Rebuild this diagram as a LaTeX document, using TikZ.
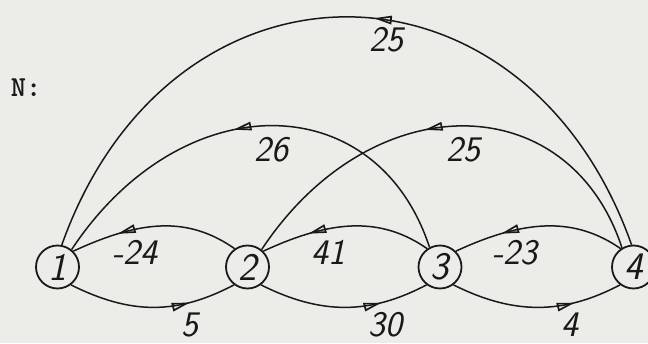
\documentclass[tikz,border=0pt]{standalone}
\usetikzlibrary{arrows.meta,decorations.markings}
\definecolor{paper}{RGB}{236,236,233}
\definecolor{ink}{RGB}{25,25,25}
\tikzset{
  vtx/.style={circle, draw=ink, line width=1.8pt, fill=paper, minimum size=43pt, inner sep=0pt,
              font=\fontsize{39}{39}\selectfont\sffamily\slshape, text=ink},
  lbl/.style={font=\fontsize{36}{36}\selectfont\sffamily\slshape, text=ink, inner sep=0pt},
  ttl/.style={font=\fontsize{29}{29}\selectfont\ttfamily\bfseries, text=ink, inner sep=0pt},
  edge/.style={draw=ink, line width=1.5pt},
  tipat/.style={postaction={decorate}, decoration={markings,
      mark=at position #1 with {\arrow{Triangle[open, length=18pt, width=8.5pt, line width=1.7pt]}}}},
}
\begin{document}
\begin{tikzpicture}[x=1pt, y=-1pt]
  \fill[paper] (0,0) rectangle (648,343);
  \useasboundingbox (0,0) rectangle (648,343);

  \node[ttl] (title) at (26,88) {N:};

  % vertices
  \node[vtx] (n1) at (57.5,267) {1};
  \node[vtx] (n2) at (247.5,267) {2};
  \node[vtx] (n3) at (440,267) {3};
  \node[vtx] (n4) at (633.5,267) {4};

  % long arcs
  \draw[edge, tipat=0.465] (n4.95) .. controls +(-108,-304) and +(108,-304) .. (n1.79);
  \draw[edge, tipat=0.55] (n3.118) .. controls +(-53,-161.5) and +(110,-166) .. (n1.51);
  \draw[edge, tipat=0.55] (n4.121) .. controls +(-53,-161.5) and +(110,-166) .. (n2.51);

  % upper arcs (right to left)
  \draw[edge, tipat=0.72] (n2.125) .. controls +(-46,-32) and +(69,-32) .. (n1.45);
  \draw[edge, tipat=0.72] (n3.125) .. controls +(-46,-32) and +(69,-32) .. (n2.45);
  \draw[edge, tipat=0.72] (n4.125) .. controls +(-46,-32) and +(69,-32) .. (n3.45);

  % lower arcs (left to right)
  \draw[edge, tipat=0.72] (n1.-53) .. controls +(60,30) and +(-57,30) .. (n2.-127);
  \draw[edge, tipat=0.72] (n2.-53) .. controls +(60,30) and +(-57,30) .. (n3.-127);
  \draw[edge, tipat=0.72] (n3.-53) .. controls +(60,30) and +(-57,30) .. (n4.-127);

  % weights
  \node[lbl] (w41) at (386,40) {25};
  \node[lbl] (w31) at (271,150) {26};
  \node[lbl] (w42) at (463,150) {25};
  \node[lbl] (w21) at (135,252) {-24};
  \node[lbl] (w32) at (328,252) {41};
  \node[lbl] (w43) at (515,253) {-23};
  \node[lbl] (w12) at (190,325) {5};
  \node[lbl] (w23) at (385,325) {30};
  \node[lbl] (w34) at (570,325) {4};
\end{tikzpicture}
\end{document}
